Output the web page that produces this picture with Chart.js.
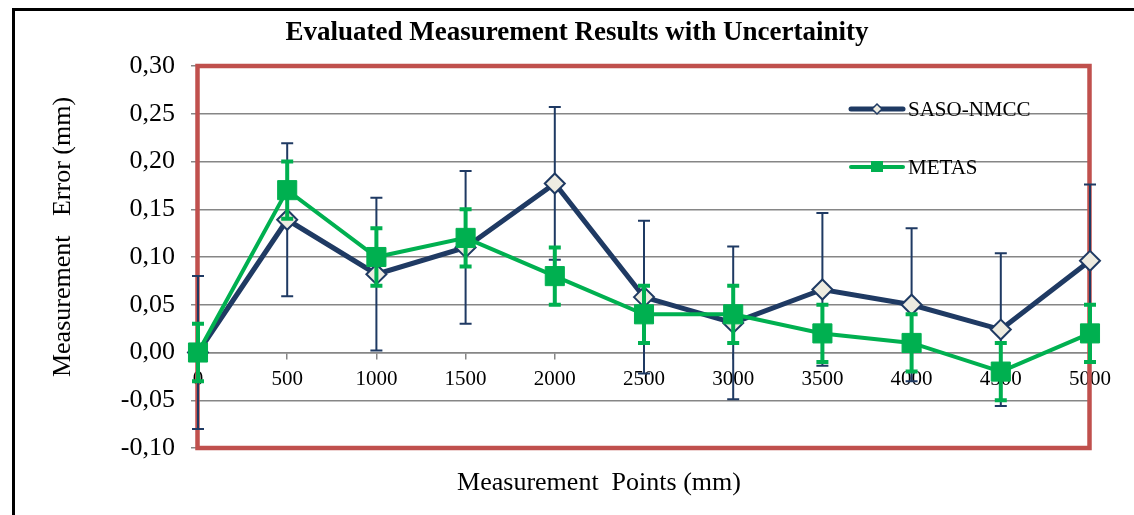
<!DOCTYPE html>
<html>
<head>
<meta charset="utf-8">
<title>Evaluated Measurement Results with Uncertainity</title>
<script src="https://cdn.jsdelivr.net/npm/chart.js"></script>
<style>
  html, body { margin: 0; padding: 0; background: #ffffff; }
  canvas { display: block; }
</style>
</head>
<body>
<canvas id="chart" width="1134" height="515"></canvas>
<script>
// measurement points (mm) on the x axis
const points = ['0', '500', '1000', '1500', '2000', '2500', '3000', '3500', '4000', '4500', '5000'];

// SASO-NMCC results and their uncertainty
const sasoValues = [0.000, 0.139, 0.082, 0.110, 0.177, 0.058, 0.031, 0.066, 0.050, 0.024, 0.096];
const sasoErrors = [0.08, 0.08, 0.08, 0.08, 0.08, 0.08, 0.08, 0.08, 0.08, 0.08, 0.08];

// METAS results and their uncertainty
const metasValues = [0.00, 0.17, 0.10, 0.12, 0.08, 0.04, 0.04, 0.02, 0.01, -0.02, 0.02];
const metasErrors = [0.03, 0.03, 0.03, 0.03, 0.03, 0.03, 0.03, 0.03, 0.03, 0.03, 0.03];

const yTicks = [-0.10, -0.05, 0.00, 0.05, 0.10, 0.15, 0.20, 0.25, 0.30];

const SERIF = "'Liberation Serif', 'Times New Roman', serif";
const NAVY = '#1F3A63';
const GREEN = '#00B050';
const GRID = '#868686';

function fmt(v) {
  if (Math.abs(v) < 1e-9) v = 0;
  return v.toFixed(2).replace('.', ',');
}

// white page with the black frame at top and left
const framePlugin = {
  id: 'frame',
  beforeDraw(chart) {
    const ctx = chart.ctx;
    ctx.save();
    ctx.fillStyle = '#ffffff';
    ctx.fillRect(0, 0, chart.width, chart.height);
    ctx.strokeStyle = '#000000';
    ctx.lineWidth = 3;
    ctx.beginPath();
    ctx.moveTo(13.5, chart.height);
    ctx.lineTo(13.5, 9.5);
    ctx.lineTo(chart.width, 9.5);
    ctx.stroke();
    ctx.restore();
  }
};

// red plot area border, under the series
const plotBorder = {
  id: 'plotBorder',
  beforeDatasetsDraw(chart) {
    const { ctx, chartArea: a } = chart;
    ctx.save();
    ctx.strokeStyle = '#C0504D';
    ctx.lineWidth = 4.5;
    ctx.strokeRect(a.left - 0.5, a.top, a.right - a.left, a.bottom - a.top);
    ctx.restore();
  }
};

// error bars drawn just before each series so markers sit on top
const errorBars = {
  id: 'errorBars',
  beforeDatasetDraw(chart, args) {
    const ds = chart.data.datasets[args.index];
    if (!ds.errors) return;
    const ctx = chart.ctx;
    const y = chart.scales.y;
    const cap = ds.capHalf;
    ctx.save();
    ctx.strokeStyle = ds.borderColor;
    ctx.lineWidth = ds.errorWidth;
    args.meta.data.forEach((pt, i) => {
      const top = y.getPixelForValue(ds.data[i] + ds.errors[i]);
      const bot = y.getPixelForValue(ds.data[i] - ds.errors[i]);
      ctx.beginPath();
      ctx.moveTo(pt.x, top);
      ctx.lineTo(pt.x, bot);
      ctx.moveTo(pt.x - cap, top);
      ctx.lineTo(pt.x + cap, top);
      ctx.moveTo(pt.x - cap, bot);
      ctx.lineTo(pt.x + cap, bot);
      ctx.stroke();
    });
    ctx.restore();
  }
};

// legend inside the plot, top right
const insideLegend = {
  id: 'insideLegend',
  afterDatasetsDraw(chart) {
    const ctx = chart.ctx;
    const rows = [
      { ds: chart.data.datasets[0], y: 109, textY: 116 },
      { ds: chart.data.datasets[1], y: 167, textY: 174 }
    ];
    ctx.save();
    rows.forEach(r => {
      const ds = r.ds;
      ctx.strokeStyle = ds.borderColor;
      ctx.lineWidth = ds.borderWidth;
      ctx.lineCap = 'round';
      ctx.beginPath();
      ctx.moveTo(851, r.y);
      ctx.lineTo(903, r.y);
      ctx.stroke();
      ctx.lineCap = 'butt';
      ctx.fillStyle = ds.pointBackgroundColor;
      ctx.beginPath();
      if (ds.pointStyle === 'rectRot') {
        ctx.moveTo(877, r.y - 5);
        ctx.lineTo(882, r.y);
        ctx.lineTo(877, r.y + 5);
        ctx.lineTo(872, r.y);
        ctx.closePath();
        ctx.fill();
        ctx.lineWidth = 1.5;
        ctx.strokeStyle = ds.pointBorderColor;
        ctx.stroke();
      } else {
        ctx.rect(871, r.y - 6, 12, 11);
        ctx.fill();
      }
      ctx.fillStyle = '#000000';
      ctx.font = '21px ' + SERIF;
      ctx.textAlign = 'left';
      ctx.textBaseline = 'alphabetic';
      ctx.fillText(ds.label, 908, r.textY);
    });
    ctx.restore();
  }
};

// chart title and axis titles
const titles = {
  id: 'titles',
  afterDraw(chart) {
    const ctx = chart.ctx;
    ctx.save();
    ctx.fillStyle = '#000000';
    ctx.textAlign = 'center';
    ctx.textBaseline = 'alphabetic';
    ctx.font = 'bold 27px ' + SERIF;
    ctx.fillText('Evaluated Measurement Results with Uncertainity', 577, 40);
    ctx.font = '26px ' + SERIF;
    ctx.fillText('Measurement  Points (mm)', 599, 490);
    ctx.translate(70, 237);
    ctx.rotate(-Math.PI / 2);
    ctx.fillText('Measurement   Error (mm)', 0, 0);
    ctx.restore();
  }
};

new Chart(document.getElementById('chart'), {
  type: 'line',
  data: {
    labels: points,
    datasets: [
      {
        label: 'SASO-NMCC',
        data: sasoValues,
        errors: sasoErrors,
        errorWidth: 2,
        capHalf: 6,
        borderColor: NAVY,
        borderWidth: 5,
        pointStyle: 'rectRot',
        pointRadius: 10,
        pointBackgroundColor: '#EEECE1',
        pointBorderColor: NAVY,
        pointBorderWidth: 2,
        tension: 0,
        clip: false,
        order: 2
      },
      {
        label: 'METAS',
        data: metasValues,
        errors: metasErrors,
        errorWidth: 4,
        capHalf: 6,
        borderColor: GREEN,
        borderWidth: 4,
        pointStyle: 'rect',
        pointRadius: 13.5,
        pointBackgroundColor: GREEN,
        pointBorderColor: GREEN,
        pointBorderWidth: 1,
        tension: 0,
        clip: false,
        order: 1
      }
    ]
  },
  options: {
    responsive: false,
    animation: false,
    events: [],
    layout: { padding: { top: 66, right: 44, bottom: 67, left: 0 } },
    plugins: {
      legend: { display: false },
      title: { display: false },
      tooltip: { enabled: false }
    },
    scales: {
      x: {
        position: { y: 0 },
        offset: false,
        grid: { drawOnChartArea: false, drawTicks: true, tickLength: 6, color: GRID, lineWidth: 1.5 },
        border: { display: true, color: GRID, width: 1.5 },
        ticks: {
          font: { family: SERIF, size: 21 },
          color: '#000000',
          padding: 8,
          maxRotation: 0,
          autoSkip: false
        }
      },
      y: {
        min: -0.1,
        max: 0.3,
        afterBuildTicks: s => { s.ticks = yTicks.map(v => ({ value: v })); },
        afterFit: s => { s.width = 198; },
        grid: { color: GRID, lineWidth: 1.5, tickLength: 7 },
        border: { display: true, color: GRID, width: 1.5 },
        ticks: {
          font: { family: SERIF, size: 26 },
          color: '#000000',
          padding: 16,
          callback: v => fmt(v)
        }
      }
    }
  },
  plugins: [framePlugin, plotBorder, errorBars, insideLegend, titles]
});
</script>
</body>
</html>
